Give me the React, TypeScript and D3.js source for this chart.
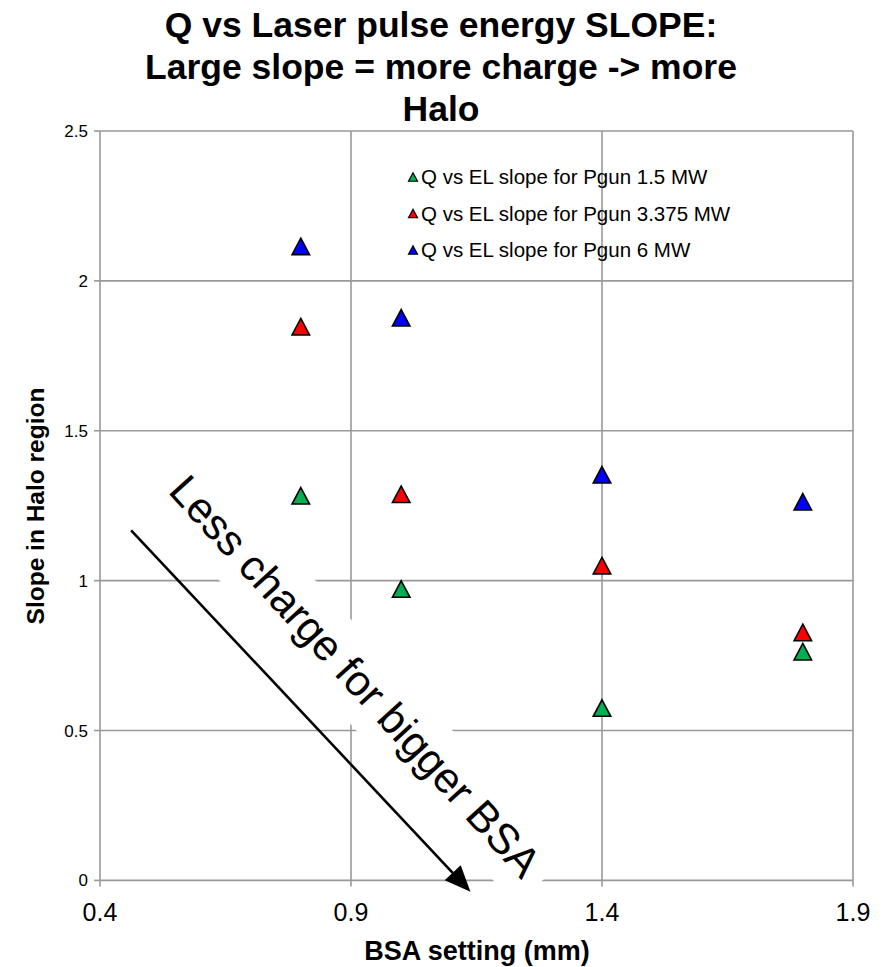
import React from "react";
import * as d3 from "d3";

// BSA settings (mm) at which the slopes were measured
const bsa = [0.8, 1.0, 1.4, 1.8];

// Q vs EL slope in the halo region, one array per gun power
const slope15 = [1.283, 0.972, 0.575, 0.763];
const slope3375 = [1.847, 1.288, 1.05, 0.827];
const slope6 = [2.115, 1.877, 1.353, 1.263];

const seriesNames = [
  "Q vs EL slope for Pgun 1.5 MW",
  "Q vs EL slope for Pgun 3.375 MW",
  "Q vs EL slope for Pgun 6 MW",
];
const seriesColors = ["#00B050", "#FF0000", "#0000FF"];

const xTicks = [0.4, 0.9, 1.4, 1.9];
const yTicks = [0, 0.5, 1, 1.5, 2, 2.5];

const titleLines = [
  "Q vs Laser pulse energy SLOPE:",
  "Large slope = more charge -> more",
  "Halo",
];

const W = 882;
const H = 967;
const FONT = "'Liberation Sans', Arial, sans-serif";

function triangle(w: number, h: number) {
  return `M0,${-h / 2}L${w / 2},${h / 2}L${-w / 2},${h / 2}Z`;
}

export default function App() {
  const x = d3.scaleLinear().domain([0.4, 1.9]).range([100, 853]);
  const y = d3.scaleLinear().domain([0, 2.5]).range([880.4, 131]);

  const series = [slope15, slope3375, slope6];
  const grid = "#999999";

  // annotation: rotated text box and the arrow beside it
  const angle = 47.6;
  const arrowStart = { x: 0.462, y: 1.168 };
  const arrowEnd = { x: 1.138, y: -0.038 };
  const ax0 = x(arrowStart.x);
  const ay0 = y(arrowStart.y);
  const ax1 = x(arrowEnd.x);
  const ay1 = y(arrowEnd.y);
  const dx = ax1 - ax0;
  const dy = ay1 - ay0;
  const len = Math.hypot(dx, dy);
  const ux = dx / len;
  const uy = dy / len;
  const headLen = 26;
  const headHalf = 11;
  const bx = ax1 - ux * headLen;
  const by = ay1 - uy * headLen;
  const head = `M${ax1},${ay1}L${bx - uy * headHalf},${by + ux * headHalf}L${bx + uy * headHalf},${by - ux * headHalf}Z`;

  return (
    <svg width={W} height={H} style={{ position: "absolute", left: 0, top: 0, background: "#fff" }}>
      <rect width={W} height={H} fill="#fff" />
      {/* title */}
      <g fontFamily={FONT} fontWeight="bold" fontSize={35.5} textAnchor="middle" fill="#000">
        {titleLines.map((t, i) => (
          <text key={i} x={441} y={37 + i * 42}>
            {t}
          </text>
        ))}
      </g>

      {/* gridlines */}
      <g stroke={grid} strokeWidth={1.6}>
        {yTicks.filter((v) => v > 0).map((v) => (
          <line key={"gy" + v} x1={x(0.4)} x2={x(1.9)} y1={y(v)} y2={y(v)} />
        ))}
        {xTicks.filter((v) => v > 0.4).map((v) => (
          <line key={"gx" + v} x1={x(v)} x2={x(v)} y1={y(0)} y2={y(2.5)} />
        ))}
      </g>

      {/* axes */}
      <g stroke={grid} strokeWidth={1.6}>
        <line x1={x(0.4)} x2={x(0.4)} y1={y(0)} y2={y(2.5)} />
        <line x1={x(0.4)} x2={x(1.9)} y1={y(0)} y2={y(0)} />
        {yTicks.map((v) => (
          <line key={"ty" + v} x1={x(0.4) - 6} x2={x(0.4)} y1={y(v)} y2={y(v)} />
        ))}
        {xTicks.map((v) => (
          <line key={"tx" + v} x1={x(v)} x2={x(v)} y1={y(0)} y2={y(0) + 6} />
        ))}
      </g>

      {/* tick labels */}
      <g fontFamily={FONT} fontSize={17} fill="#000" textAnchor="end">
        {yTicks.map((v) => (
          <text key={"ly" + v} x={x(0.4) - 12} y={y(v) + 6}>
            {String(v)}
          </text>
        ))}
      </g>
      <g fontFamily={FONT} fontSize={25} fill="#000" textAnchor="middle">
        {xTicks.map((v) => (
          <text key={"lx" + v} x={x(v)} y={y(0) + 41}>
            {v.toFixed(1)}
          </text>
        ))}
      </g>

      {/* axis titles */}
      <text x={477} y={960} fontFamily={FONT} fontWeight="bold" fontSize={27} textAnchor="middle">
        BSA setting (mm)
      </text>
      <text
        transform={`translate(44,506) rotate(-90)`}
        fontFamily={FONT}
        fontWeight="bold"
        fontSize={24.5}
        textAnchor="middle"
      >
        Slope in Halo region
      </text>

      {/* annotation text box */}
      <g transform={`translate(167,492) rotate(${angle})`}>
        <rect x={-28} y={-50} width={568} height={71} fill="#fff" />
        <text x={0} y={0} fontFamily={FONT} fontSize={43} fill="#000">
          Less charge for bigger BSA
        </text>
      </g>
      <line x1={ax0} y1={ay0} x2={bx} y2={by} stroke="#000" strokeWidth={2.6} />
      <path d={head} fill="#000" />

      {/* markers */}
      {series.map((vals, si) =>
        vals.map((v, i) => (
          <path
            key={si + "-" + i}
            d={triangle(17.5, 16.5)}
            transform={`translate(${x(bsa[i])},${y(v)})`}
            fill={seriesColors[si]}
            stroke="#000"
            strokeWidth={1.6}
            strokeLinejoin="miter"
          />
        ))
      )}

      {/* legend */}
      <g fontFamily={FONT} fontSize={20.5} fill="#000">
        {seriesNames.map((name, i) => (
          <g key={name} transform={`translate(413,${177 + i * 36.5})`}>
            <path d={triangle(9, 8.5)} fill={seriesColors[i]} stroke="#000" strokeWidth={1.2} />
            <text x={8} y={7}>
              {name}
            </text>
          </g>
        ))}
      </g>
    </svg>
  );
}
